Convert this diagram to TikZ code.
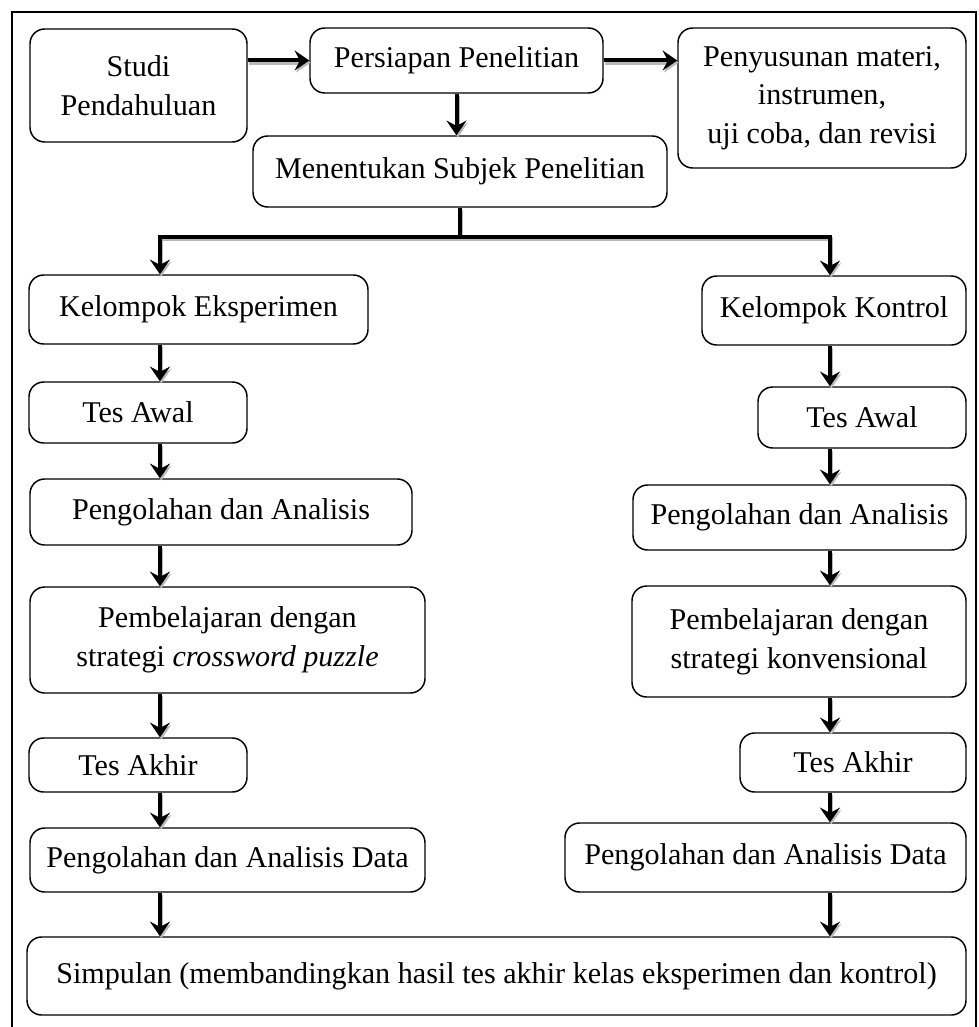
\documentclass[tikz,border=0pt]{standalone}
\usepackage{fontspec}
\setmainfont{Liberation Serif}
\usetikzlibrary{arrows.meta}

\tikzset{
  kotak/.style={draw, line width=1.1pt, rounded corners=11pt, align=center, inner sep=0pt},
  garis/.style={line width=3pt, preaction={draw=gray!55, line width=3pt, transform canvas={xshift=1pt, yshift=-1.6pt}}},
  panah/.style={garis, -{Stealth[length=11pt, width=15pt, inset=4pt]}}
}

\begin{document}
\begin{tikzpicture}[x=0.75pt, y=-0.75pt, font=\fontsize{22.6}{29}\selectfont]
            \useasboundingbox (0,0) rectangle (978,1027);

            % bingkai luar
            \draw[line width=1.5pt] (12,1045) -- (12,12) -- (976,12) -- (976,1045);

            % baris atas
            \node[kotak, minimum width=162.75pt, minimum height=84.75pt] (studi) at (138.5,85.5) {Studi\\Pendahuluan};
            \node[kotak, minimum width=219.75pt, minimum height=48.75pt] (persiapan) at (456.5,60.5) {Persiapan Penelitian};
            \node[kotak, minimum width=216pt, minimum height=105pt] (penyusunan) at (822,98) {Penyusunan materi,\\instrumen,\\uji coba, dan revisi};
            \node[kotak, minimum width=310.5pt, minimum height=53.25pt] (subjek) at (460,171.5) {Menentukan Subjek Penelitian};

            % kelompok eksperimen (kiri)
            \node[kotak, minimum width=254.25pt, minimum height=51.75pt] (eksp) at (198.5,309.5) {Kelompok Eksperimen};
            \node[kotak, minimum width=163.5pt, minimum height=45.75pt] (awalE) at (138,412.5) {Tes Awal};
            \node[kotak, minimum width=286.5pt, minimum height=49.5pt] (olahE) at (221,512) {Pengolahan dan Analisis};
            \node[kotak, minimum width=296.25pt, minimum height=79.5pt] (ajarE) at (227.5,640) {Pembelajaran dengan\\strategi \textit{crossword puzzle}};
            \node[kotak, minimum width=163.5pt, minimum height=40.5pt] (akhirE) at (138,765) {Tes Akhir};
            \node[kotak, minimum width=296.25pt, minimum height=48pt] (dataE) at (227.5,860) {Pengolahan dan Analisis Data};

            % kelompok kontrol (kanan)
            \node[kotak, minimum width=198pt, minimum height=51.75pt] (kontrol) at (834,310.5) {Kelompok Kontrol};
            \node[kotak, minimum width=156pt, minimum height=45.75pt] (awalK) at (862,417.5) {Tes Awal};
            \node[kotak, minimum width=249.75pt, minimum height=48.75pt] (olahK) at (799.5,517.5) {Pengolahan dan Analisis};
            \node[kotak, minimum width=250.5pt, minimum height=83.25pt] (ajarK) at (799,641.5) {Pembelajaran dengan\\strategi konvensional};
            \node[kotak, minimum width=169.5pt, minimum height=44.25pt] (akhirK) at (853,762.5) {Tes Akhir};
            \node[kotak, minimum width=300.75pt, minimum height=51.75pt] (dataK) at (765.5,857.5) {Pengolahan dan Analisis Data};

            % simpulan
            \node[kotak, minimum width=704.25pt, minimum height=58.5pt] (simpulan) at (496.5,976) {Simpulan (membandingkan hasil tes akhir kelas eksperimen dan kontrol)};

            % titik bantu untuk panah
            \coordinate (kiri) at (160,0);
            \coordinate (kanan) at (830,0);
            \coordinate (cabang) at (460,237);

            % panah baris atas
            \draw[panah] (studi.east |- persiapan.west) -- (persiapan.west);
            \draw[panah] (persiapan.east) -- (penyusunan.west |- persiapan.east);
            \draw[panah] (persiapan.south) -- (persiapan.south |- subjek.north);

            % percabangan
            \draw[garis] (subjek.south) -- (cabang);
            \draw[panah] (cabang) -| (eksp.north -| kiri);
            \draw[panah] (cabang) -| (kontrol.north -| kanan);

            % alur kiri
            \draw[panah] (eksp.south -| kiri) -- (awalE.north -| kiri);
            \draw[panah] (awalE.south -| kiri) -- (olahE.north -| kiri);
            \draw[panah] (olahE.south -| kiri) -- (ajarE.north -| kiri);
            \draw[panah] (ajarE.south -| kiri) -- (akhirE.north -| kiri);
            \draw[panah] (akhirE.south -| kiri) -- (dataE.north -| kiri);
            \draw[panah] (dataE.south -| kiri) -- (simpulan.north -| kiri);

            % alur kanan
            \draw[panah] (kontrol.south -| kanan) -- (awalK.north -| kanan);
            \draw[panah] (awalK.south -| kanan) -- (olahK.north -| kanan);
            \draw[panah] (olahK.south -| kanan) -- (ajarK.north -| kanan);
            \draw[panah] (ajarK.south -| kanan) -- (akhirK.north -| kanan);
            \draw[panah] (akhirK.south -| kanan) -- (dataK.north -| kanan);
            \draw[panah] (dataK.south -| kanan) -- (simpulan.north -| kanan);
        \end{tikzpicture}
\end{document}
